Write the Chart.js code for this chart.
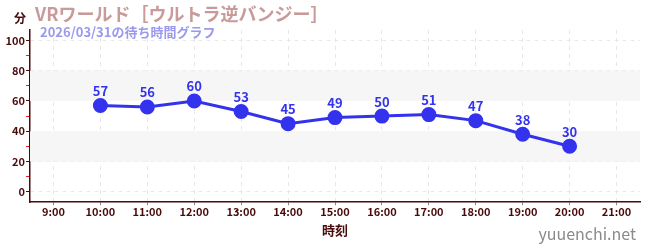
<!DOCTYPE html>
<html>
<head>
<meta charset="utf-8">
<script src="https://cdn.jsdelivr.net/npm/chart.js@4/dist/chart.umd.min.js"></script>
<style>
  body { margin: 0; background: #fff; }
  #wrap { width: 650px; height: 250px; }
</style>
</head>
<body>
<div id="wrap"><canvas id="waitChart"></canvas></div>
<script>
// data
var hours = [10, 11, 12, 13, 14, 15, 16, 17, 18, 19, 20];
var waits = [57, 56, 60, 53, 45, 49, 50, 51, 47, 38, 30];
var hourTicks = [9, 10, 11, 12, 13, 14, 15, 16, 17, 18, 19, 20, 21];
var minuteTicks = [0, 10, 20, 30, 40, 50, 60, 70, 80, 90, 100];
var bands = [[20, 40], [60, 80]];

var FONT = "'Noto Sans CJK JP', 'Noto Sans', sans-serif";
var MAROON = "#4a0a0a";
var BLUE = "#3333ee";

var points = hours.map(function (h, i) { return { x: h, y: waits[i] }; });

// light grey stripes behind the line
var bandPlugin = {
  id: "bands",
  beforeDatasetsDraw: function (chart) {
    var c = chart.ctx, a = chart.chartArea, y = chart.scales.y;
    c.save();
    c.fillStyle = "#f6f6f6";
    bands.forEach(function (b) {
      var top = y.getPixelForValue(b[1]), bot = y.getPixelForValue(b[0]);
      c.fillRect(a.left, top, a.right - a.left, bot - top);
    });
    c.restore();
  }
};

// value labels + title texts
var textPlugin = {
  id: "texts",
  afterDraw: function (chart) {
    var c = chart.ctx;
    c.save();
    var meta = chart.getDatasetMeta(0);
    c.fillStyle = BLUE;
    c.font = "bold 13px " + FONT;
    c.textAlign = "center";
    c.textBaseline = "bottom";
    meta.data.forEach(function (pt, i) {
      c.fillText(waits[i], pt.x, pt.y - 8);
    });

    c.textAlign = "left";
    c.textBaseline = "middle";
    c.fillStyle = MAROON;
    c.font = "bold 12px " + FONT;
    c.fillText("分", 14, 18);
    c.fillStyle = "#c99a9a";
    c.font = "bold 18px " + FONT;
    c.fillText("VRワールド［ウルトラ逆バンジー］", 35, 14);
    c.fillStyle = "#9999ee";
    c.font = "bold 13px " + FONT;
    c.fillText("2026/03/31の待ち時間グラフ", 40, 32);

    c.textAlign = "right";
    c.fillStyle = "#8a8a8a";
    c.font = "16px " + FONT;
    c.fillText("yuuenchi.net", 636, 234);
    c.restore();
  }
};

new Chart(document.getElementById("waitChart"), {
  type: "line",
  data: {
    datasets: [{
      data: points,
      borderColor: BLUE,
      backgroundColor: BLUE,
      borderWidth: 3,
      pointRadius: 6,
      pointBackgroundColor: BLUE,
      pointBorderColor: BLUE,
      tension: 0
    }]
  },
  options: {
    responsive: true,
    maintainAspectRatio: false,
    animation: false,
    events: [],
    layout: { padding: { top: 30, right: 10, left: 0, bottom: 12 } },
    plugins: { legend: { display: false }, tooltip: { enabled: false } },
    scales: {
      x: {
        type: "linear",
        min: 8.5,
        max: 21.5,
        afterBuildTicks: function (s) {
          s.ticks = hourTicks.map(function (v) { return { value: v }; });
        },
        ticks: {
          color: MAROON,
          font: { family: FONT, size: 11, weight: "bold" },
          padding: 0,
          callback: function (v) { return v + ":00"; }
        },
        grid: {
          color: "#e8e8e8",
          tickColor: "#888",
          tickLength: 3,
          drawOnChartArea: true
        },
        border: { color: MAROON, width: 1.5, dash: [4, 4] },
        title: {
          display: true,
          text: "時刻",
          color: MAROON,
          font: { family: FONT, size: 13, weight: "bold" },
          padding: { top: 4, bottom: 0 }
        }
      },
      y: {
        min: -7,
        max: 107,
        afterBuildTicks: function (s) {
          s.ticks = minuteTicks.map(function (v) { return { value: v }; });
        },
        afterFit: function (s) { s.width = 30; },
        ticks: {
          color: MAROON,
          font: { family: FONT, size: 11, weight: "bold" },
          padding: 1,
          callback: function (v) { return v % 20 === 0 ? v : ""; }
        },
        grid: {
          color: function (ctx) {
            return ctx.tick && ctx.tick.value % 20 === 0 ? "#e8e8e8" : "rgba(0,0,0,0)";
          },
          tickColor: function (ctx) {
            return ctx.tick && ctx.tick.value % 20 === 0 ? MAROON : "#dd2222";
          },
          tickLength: 4
        },
        border: { color: MAROON, width: 1.5, dash: [4, 4] }
      }
    }
  },
  plugins: [bandPlugin, textPlugin]
});
</script>
</body>
</html>
